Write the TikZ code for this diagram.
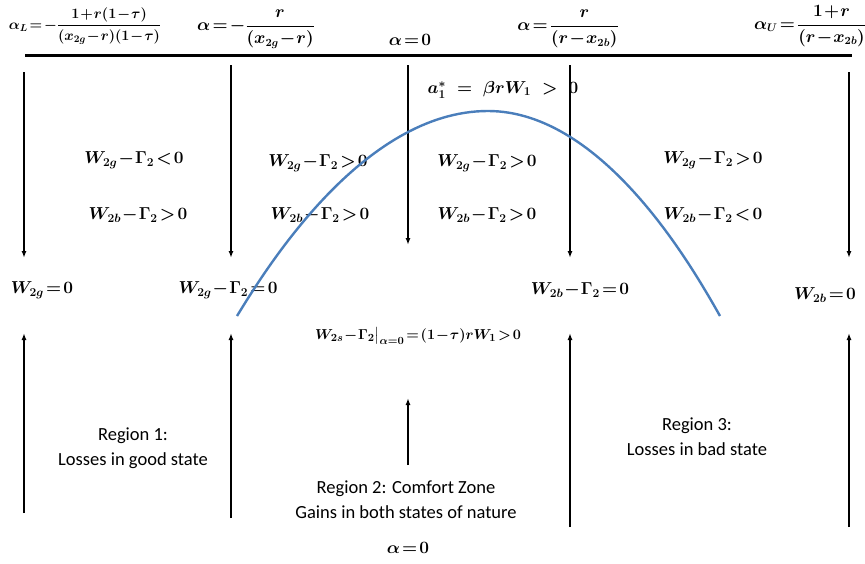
\documentclass[tikz,border=0pt]{standalone}
\usepackage{amsmath}
\usepackage{fontspec}
\setsansfont{Carlito}
\usepackage{xcolor}
\usetikzlibrary{arrows.meta}
\definecolor{curveblue}{RGB}{74,126,187}
\newcommand{\tightmath}{\medmuskip=1mu\thickmuskip=2mu}

\begin{document}
\begin{tikzpicture}[x=1pt, y=-1pt, >={Latex[length=7pt,width=5pt]}, line width=1.4pt,
  every node/.style={inner sep=1pt, align=center, font=\fontsize{18.5}{21}\selectfont\boldmath\tightmath},
  top/.style={font=\fontsize{16}{19}\selectfont\boldmath\tightmath},
  region/.style={font=\sffamily\fontsize{18.5}{25}\selectfont}]
\useasboundingbox (0,0) rectangle (865,563);
% axis and alpha values
\coordinate (axl) at (25,55);
\coordinate (axr) at (852,55);
\draw[line width=3pt] (axl) -- (axr);
\node[top, font=\fontsize{14}{17}\selectfont\boldmath\tightmath] (aL) at (85,26) {$\alpha_{L}=-\dfrac{1+r(1-\tau)}{(x_{2g}-r)(1-\tau)}$};
\node[top] (aneg) at (256,29) {$\alpha=-\dfrac{r}{(x_{2g}-r)}$};
\node[top] (azero) at (410,40) {$\alpha=0$};
\node[top] (apos) at (568,29) {$\alpha=\dfrac{r}{(r-x_{2b})}$};
\node[top] (aU) at (810,26) {$\alpha_{U}=\dfrac{1+r}{(r-x_{2b})}$};
% sign conditions
\node (g1) at (134,160) {$W_{2g}-\Gamma_2<0$};
\node (g2) at (318,163) {$W_{2g}-\Gamma_2>0$};
\node (g3) at (487,163) {$W_{2g}-\Gamma_2>0$};
\node (g4) at (713,160) {$W_{2g}-\Gamma_2>0$};
\node (b1) at (138,215) {$W_{2b}-\Gamma_2>0$};
\node (b2) at (320,215) {$W_{2b}-\Gamma_2>0$};
\node (b3) at (487,215) {$W_{2b}-\Gamma_2>0$};
\node (b4) at (713,215) {$W_{2b}-\Gamma_2<0$};
\node[font=\fontsize{17}{20}\selectfont\boldmath] (astar) at (503,90) {$a_1^{*}\;=\;\beta r W_{1}\;>\;0$};
% boundaries
\node (w1) at (42,290) {$W_{2g}=0$};
\node (w2) at (228,290) {$W_{2g}-\Gamma_2=0$};
\node (w3) at (580,290) {$W_{2b}-\Gamma_2=0$};
\node (w4) at (825,295) {$W_{2b}=0$};
\node[font=\fontsize{15.5}{18}\selectfont\boldmath\tightmath] (wzero) at (418,336) {$W_{2s}-\Gamma_2\big|_{\alpha=0}=(1-\tau)rW_1>0$};
% regions
\node[region] (reg1) at (133,448) {Region 1:\\Losses in good state};
\node[region] (reg2) at (406,500) {Region 2: Comfort Zone\\Gains in both states of nature};
\node[region] (reg3) at (697,437) {Region 3:\\Losses in bad state};
\node[top] (abot) at (408,548) {$\alpha=0$};
% arrows down from the axis
\foreach \n/\x/\ya/\yb in {1/24/72/258, 2/231/65/258, 3/408/65/245, 4/570/65/258, 5/849/72/258} {
  \coordinate (t\n) at (\x,\ya);
  \coordinate (m\n) at (\x,\yb);
  \draw[->] (t\n) -- (m\n);
}
% arrows up from below
\foreach \n/\x/\ya/\yb in {1/24/513/333, 2/231/518/333, 4/570/527/333, 5/849/527/333, 3/408/465/398} {
  \coordinate (u\n) at (\x,\ya);
  \coordinate (v\n) at (\x,\yb);
  \draw[->] (u\n) -- (v\n);
}
% the curve
\coordinate (cl) at (237,316);
\coordinate (ctop) at (488,111);
\coordinate (cr) at (720,316);
\draw[curveblue, line width=2.4pt] (cl) parabola bend (ctop) (cr);
\end{tikzpicture}
\end{document}
